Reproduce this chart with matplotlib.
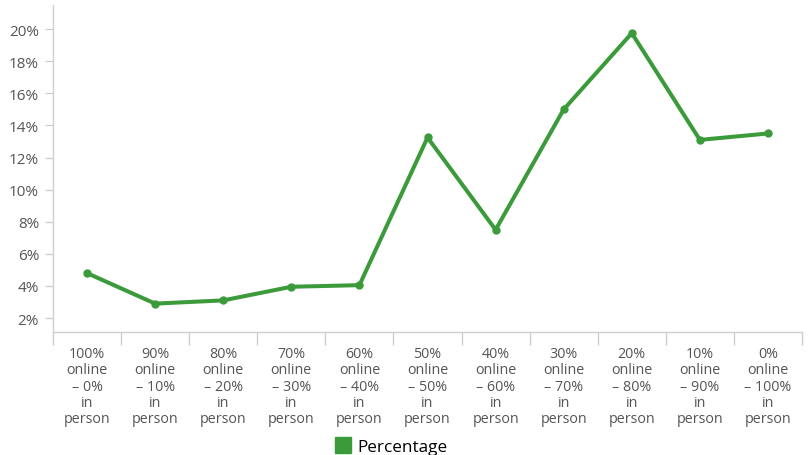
import matplotlib.pyplot as plt
from matplotlib.lines import Line2D
from matplotlib.ticker import FixedLocator

categories = ['100%\nonline\n– 0%\nin\nperson', '90%\nonline\n– 10%\nin\nperson',
              '80%\nonline\n– 20%\nin\nperson', '70%\nonline\n– 30%\nin\nperson',
              '60%\nonline\n– 40%\nin\nperson', '50%\nonline\n– 50%\nin\nperson',
              '40%\nonline\n– 60%\nin\nperson', '30%\nonline\n– 70%\nin\nperson',
              '20%\nonline\n– 80%\nin\nperson', '10%\nonline\n– 90%\nin\nperson',
              '0%\nonline\n– 100%\nin\nperson']
percentage = [4.8, 2.9, 3.1, 3.95, 4.05, 13.25, 7.5, 15.0, 19.75, 13.1, 13.5]
y_ticks = [2, 4, 6, 8, 10, 12, 14, 16, 18, 20]

plt.rcParams['font.family'] = ['Open Sans', 'DejaVu Sans']
green = '#3b9b3b'
grey = '#cfcfcf'

fig = plt.figure(figsize=(8.08, 4.56), dpi=100)
ax = fig.add_axes([0.0656, 0.2697, 0.927, 0.717])

x = list(range(len(categories)))
ax.plot(x, percentage, color=green, linewidth=2.9, marker='o', markersize=5,
        solid_joinstyle='miter')

ax.set_xlim(-0.5, len(categories) - 0.5)
ax.set_ylim(1.13, 21.5)
ax.set_yticks(y_ticks)
ax.set_yticklabels([f'{t}%' for t in y_ticks])

ax.set_xticks(x)
ax.set_xticklabels(categories, linespacing=1.12)
ax.xaxis.set_minor_locator(FixedLocator([i - 0.5 for i in range(len(categories) + 1)]))
ax.tick_params(axis='x', which='major', length=0, pad=10, labelsize=10.3, labelcolor='#555555')
ax.tick_params(axis='x', which='minor', length=9, color=grey, width=1)
ax.tick_params(axis='y', length=6, color=grey, width=1, labelsize=11, labelcolor='#555555', pad=4)

for side in ['top', 'right']:
    ax.spines[side].set_visible(False)
for side in ['left', 'bottom']:
    ax.spines[side].set_color(grey)
    ax.spines[side].set_linewidth(1)

handle = Line2D([], [], marker='s', linestyle='none', markersize=12,
                markerfacecolor=green, markeredgecolor=green)
fig.legend([handle], ['Percentage'], loc='center', bbox_to_anchor=(0.484, 0.018),
           frameon=False, fontsize=12.3, handletextpad=0.3, handlelength=1.0)

fig.savefig('out.png', dpi=100)
